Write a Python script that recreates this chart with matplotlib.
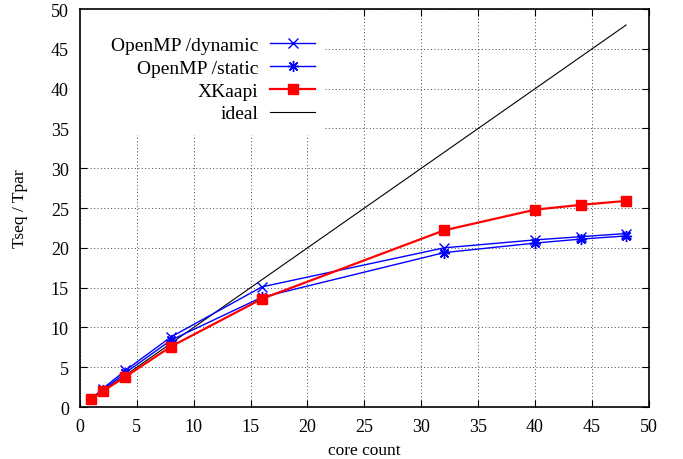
import numpy as np
import matplotlib.pyplot as plt
from matplotlib.patches import Rectangle

plt.rcParams['font.family'] = ['Liberation Serif', 'DejaVu Serif']

# data
cores = [1, 2, 4, 8, 16, 32, 40, 44, 48]
omp_dynamic = [1.0, 2.3, 4.6, 8.8, 15.1, 20.0, 21.0, 21.4, 21.8]
omp_static = [1.0, 2.1, 4.3, 8.4, 13.8, 19.4, 20.6, 21.1, 21.5]
xkaapi = [1.0, 2.0, 3.8, 7.6, 13.6, 22.2, 24.8, 25.4, 25.9]
ideal_x = [1, 48]
ideal_y = [1, 48]

fig = plt.figure(figsize=(6.83, 4.6), dpi=100)
ax = fig.add_axes([0.117, 0.113, 0.833, 0.865])

ax.plot(cores, omp_dynamic, color='#0000ff', lw=1.0, marker='x', ms=7, mew=1.0,
        label='OpenMP /dynamic', zorder=3)
ax.plot(cores, omp_static, color='#0000ff', lw=1.0, marker=(8, 2, 0), ms=8, mew=1.0,
        label='OpenMP /static', zorder=3)
ax.plot(cores, xkaapi, color='#ff0000', lw=1.6, marker='s', ms=7,
        label='XKaapi', zorder=4)
ax.plot(ideal_x, ideal_y, color='black', lw=0.8, label='ideal', zorder=2)

ax.set_xlim(0, 50)
ax.set_ylim(0, 50)
ax.set_xticks(np.arange(0, 51, 5))
ax.set_yticks(np.arange(0, 51, 5))
ax.tick_params(direction='in', length=5, width=0.8, top=True, right=True,
               labelsize=13, pad=8)
for s in ax.spines.values():
    s.set_linewidth(1.2)

ax.set_axisbelow(True)
ax.grid(True, color='#444444', linestyle=(0, (1, 2.5)), linewidth=0.7)

# key area hides the grid (gnuplot style)
ax.add_patch(Rectangle((0, 0.683), 0.43, 0.317, transform=ax.transAxes,
                       facecolor='white', edgecolor='none', zorder=1.5))

ax.set_xlabel('core count', fontsize=12.5, labelpad=5)
ax.set_ylabel('Tseq / Tpar', fontsize=12.5, labelpad=16)

leg = ax.legend(loc='upper right', bbox_to_anchor=(0.413, 0.932), frameon=False,
                markerfirst=False, fontsize=14, handlelength=2.3,
                handletextpad=0.6, labelspacing=0.27, borderpad=0,
                borderaxespad=0)

fig.savefig('out.png', dpi=100)
